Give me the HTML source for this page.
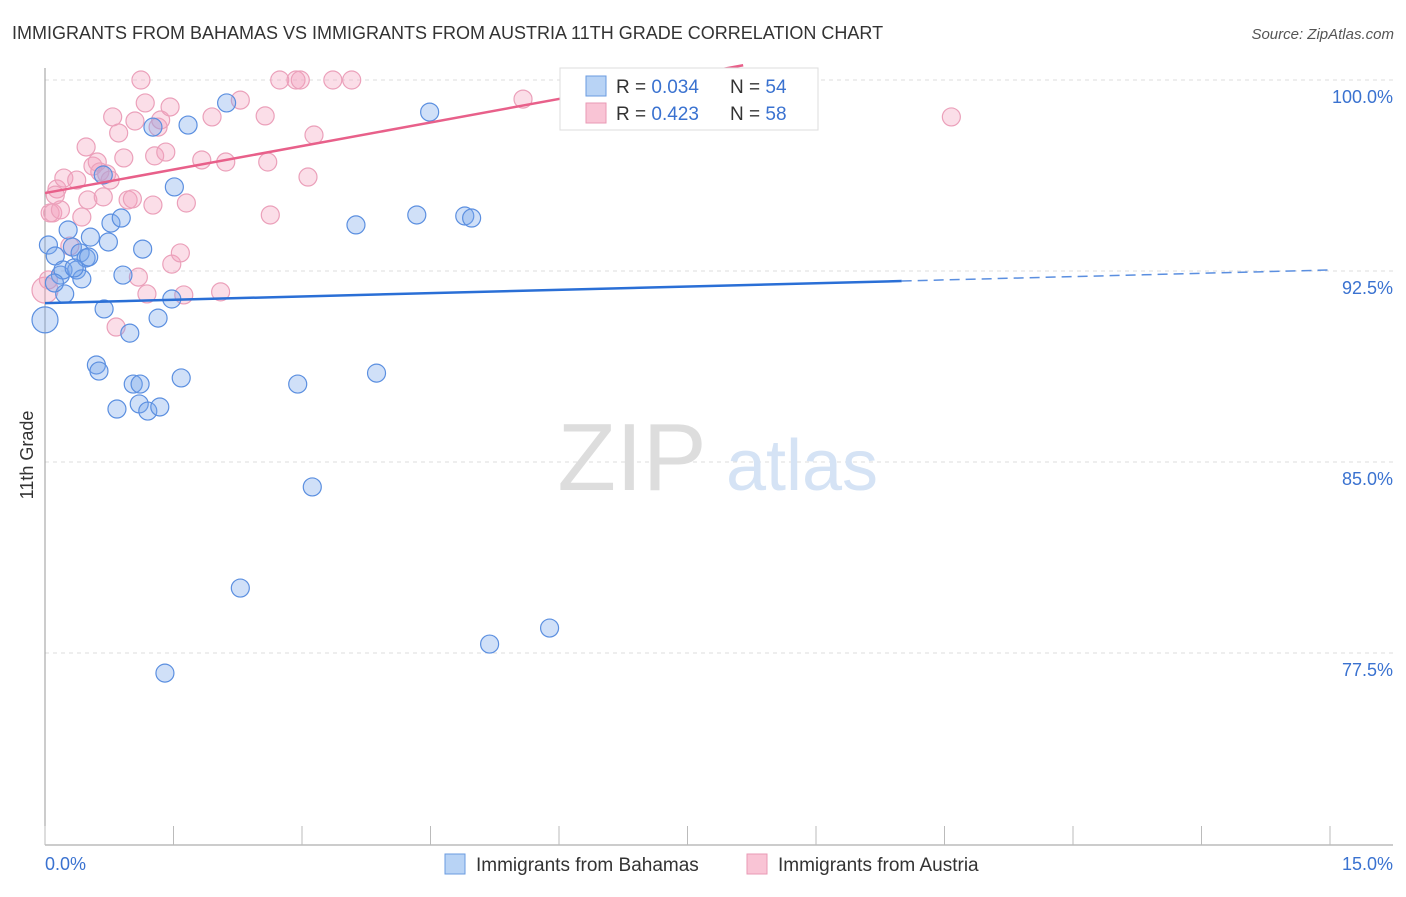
<!DOCTYPE html>
<html><head><meta charset="utf-8"><style>
body{margin:0;background:#fff;font-family:"Liberation Sans",sans-serif;}
svg text{font-family:"Liberation Sans",sans-serif;}
</style></head><body>
<svg width="1406" height="892" xmlns="http://www.w3.org/2000/svg">
<text x="12" y="39" font-size="18" fill="#333">IMMIGRANTS FROM BAHAMAS VS IMMIGRANTS FROM AUSTRIA 11TH GRADE CORRELATION CHART</text>
<text x="1394" y="39" font-size="15" fill="#555" text-anchor="end" font-style="italic">Source: ZipAtlas.com</text>
<g id="grid"></g>
<g>
<text x="632" y="490" font-size="96" fill="#ddd" text-anchor="middle" font-family="Liberation Serif">ZIP</text>
<text x="802" y="490" font-size="72" fill="#d5e3f5" text-anchor="middle">atlas</text>
</g>
<g id="axes"></g>
<g id="pts"></g>
<g id="trend"></g>
<text x="33" y="455" font-size="18" fill="#333" text-anchor="middle" transform="rotate(-90 33 455)">11th Grade</text>
<g>
<rect x="560" y="68" width="258" height="62" fill="#fff" stroke="#ddd"/>
<rect x="586" y="76" width="20" height="20" fill="#b8d3f5" stroke="#6a9be0"/>
<rect x="586" y="103" width="20" height="20" fill="#f9c4d5" stroke="#e99ab5"/>
<text x="616" y="93" font-size="19" fill="#333">R = <tspan fill="#3a72d0">0.034</tspan></text>
<text x="730" y="93" font-size="19" fill="#333">N = <tspan fill="#3a72d0">54</tspan></text>
<text x="616" y="120" font-size="19" fill="#333">R = <tspan fill="#3a72d0">0.423</tspan></text>
<text x="730" y="120" font-size="19" fill="#333">N = <tspan fill="#3a72d0">58</tspan></text>
</g>
<g>
<rect x="445" y="854" width="20" height="20" fill="#b8d3f5" stroke="#6a9be0"/>
<text x="476" y="871" font-size="19" fill="#333">Immigrants from Bahamas</text>
<rect x="747" y="854" width="20" height="20" fill="#f9c4d5" stroke="#e99ab5"/>
<text x="778" y="871" font-size="19" fill="#333">Immigrants from Austria</text>
</g>
</svg>
<script>
const yTicks=[100,92.5,85,77.5];
const yTickLabels=["100.0%","92.5%","85.0%","77.5%"];
const xRange=[0,15];
const xTickLabels=["0.0%","15.0%"];
const blueX=[0,.04,.12,.18,.21,.23,.27,.32,.37,.41,.43,.48,.53,.60,.63,.69,.74,.77,.84,.89,.91,.99,1.03,1.11,1.10,1.14,1.20,1.26,1.32,1.34,1.40,1.48,1.51,1.59,1.67,2.12,2.28,2.95,3.12,3.63,3.87,4.34,4.49,4.90,4.98,5.19,5.89,6.85,8.85,.68,.34,.11,.51];
const blueY=[90.58,93.52,93.09,92.34,92.54,91.60,94.11,93.44,92.54,93.21,92.19,93.01,93.83,88.81,88.57,91.01,93.64,94.38,87.08,94.58,92.34,90.06,88.06,88.06,87.28,93.36,87.00,98.15,90.65,87.16,76.71,91.40,95.80,88.30,98.23,99.10,80.05,88.06,84.02,94.31,88.49,94.70,98.74,94.66,94.58,77.85,78.48,100,100,96.27,92.62,92.03,93.05];
const pinkX=[0,.06,.09,.14,.18,.22,.29,.37,.43,.48,.50,.56,.61,.64,.68,.72,.76,.79,.83,.86,.92,.97,1.02,1.05,1.09,1.12,1.17,1.19,1.26,1.28,1.32,1.35,1.41,1.46,1.48,1.58,1.62,1.65,1.83,1.95,2.05,2.11,2.28,2.57,2.60,2.63,2.74,2.93,2.98,3.07,3.14,3.36,3.58,5.58,8.14,10.58,.12,.04];
const pinkY=[91.75,94.78,94.78,95.72,94.90,96.15,93.48,96.07,94.62,97.37,95.29,96.62,96.78,96.39,95.41,96.31,96.07,98.55,90.30,97.92,96.94,95.29,95.33,98.39,92.26,100,99.10,91.60,95.09,97.02,98.15,98.43,97.17,98.94,92.77,93.21,91.56,95.17,96.86,98.55,91.68,96.78,99.21,98.59,96.78,94.70,100,100,100,96.19,97.84,100,100,99.25,100,98.55,95.48,92.15];
const blueTrend=[91.24,92.54];
const pinkTrend=[95.56,104.8];
const NS="http://www.w3.org/2000/svg";
const X0=45,X1=1330,Y100=80,PX_PER=191/7.5;
const sx=v=>X0+(v-xRange[0])/(xRange[1]-xRange[0])*(X1-X0);
const sy=v=>Y100+(100-v)*PX_PER;
function mk(tag,attrs,parent){const e=document.createElementNS(NS,tag);for(const k in attrs)e.setAttribute(k,attrs[k]);parent.appendChild(e);return e;}
const grid=document.getElementById('grid'),axes=document.getElementById('axes');
yTicks.forEach((t,i)=>{
 const l=mk('line',{x1:X0,x2:1393,y1:sy(t),y2:sy(t),stroke:'#ddd','stroke-dasharray':'4 4'},grid);
 
 
 const tx=mk('text',{x:1393,y:sy(t)+23,'font-size':18,fill:'#3a72d0','text-anchor':'end'},axes);
 tx.textContent=yTickLabels[i];
 
 
});
const ya=mk('line',{x1:X0,x2:X0,y1:68,y2:845,stroke:'#999'},axes);


const xa=mk('line',{x1:X0,x2:1393,y1:845,y2:845,stroke:'#999'},axes);


for(let i=0;i<=10;i++){const v=xRange[0]+i*(xRange[1]-xRange[0])/10;
 const tk=mk('line',{x1:sx(v),x2:sx(v),y1:826,y2:845,stroke:'#bbb'},axes);
 
 }
const xl0=mk('text',{x:45,y:870,'font-size':18,fill:'#3a72d0'},axes);xl0.textContent=xTickLabels[0];


const xl1=mk('text',{x:1393,y:870,'font-size':18,fill:'#3a72d0','text-anchor':'end'},axes);xl1.textContent=xTickLabels[1];


const pts=document.getElementById('pts');
pinkX.forEach((x,i)=>{const c=mk('circle',{cx:sx(x),cy:sy(pinkY[i]),r:x===0?13:9,fill:'rgba(244,160,188,0.35)',stroke:'#eba0ba','stroke-width':1.2},pts);
 
 });
blueX.forEach((x,i)=>{const c=mk('circle',{cx:sx(x),cy:sy(blueY[i]),r:x===0?13:9,fill:'rgba(120,165,235,0.35)',stroke:'#5b8fe0','stroke-width':1.2},pts);
 
 });
const tr=document.getElementById('trend');
const bAt=v=>blueTrend[0]+(blueTrend[1]-blueTrend[0])*v/15;
const b1=mk('line',{x1:sx(0),y1:sy(bAt(0)),x2:sx(10),y2:sy(bAt(10)),stroke:'#2a6fd6','stroke-width':2.5},tr);


const b2=mk('line',{x1:sx(10),y1:sy(bAt(10)),x2:sx(15),y2:sy(bAt(15)),stroke:'#5b8fe0','stroke-width':1.5,'stroke-dasharray':'10 6'},tr);


const pAt=v=>pinkTrend[0]+(pinkTrend[1]-pinkTrend[0])*v/15;
const p1=mk('line',{x1:sx(0),y1:sy(pAt(0)),x2:sx(8.15),y2:sy(pAt(8.15)),stroke:'#e8608a','stroke-width':2.5},tr);


</script>
</body></html>
